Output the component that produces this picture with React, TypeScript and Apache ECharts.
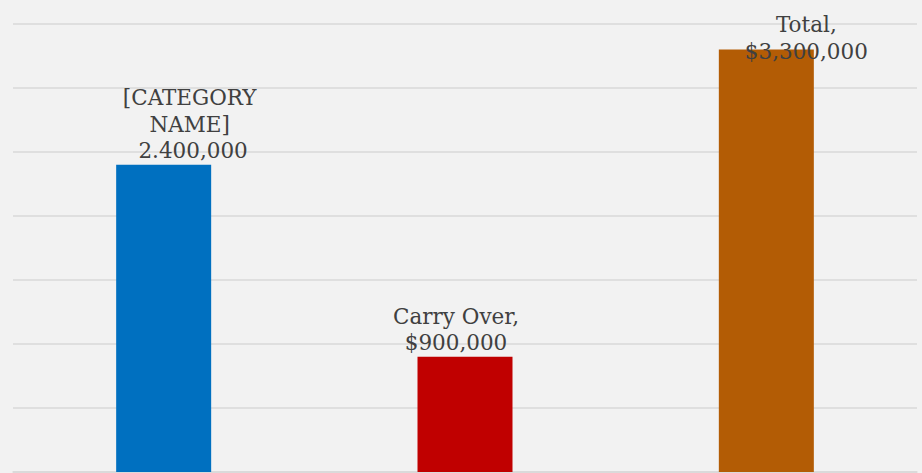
import React, { useEffect, useRef } from "react";
import * as echarts from "echarts";

const categories = ["[CATEGORY NAME]", "Carry Over", "Total"];
const values = [2400000, 900000, 3300000];
const labelTexts = ["[CATEGORY\nNAME]\n 2.400,000", "Carry Over,\n$900,000", "Total,\n$3,300,000"];
const barColors = ["#0070C0", "#C00000", "#B35C05"];
const labelOffsets = [[26, 0], [-9, 0], [40, 16]];

export default function App() {
  const ref = useRef<HTMLDivElement>(null);
  useEffect(() => {
    document.body.style.margin = "0";
    const chart = echarts.init(ref.current!, null, { renderer: "svg" });
    chart.setOption({
      animation: false,
      backgroundColor: "#F2F2F2",
      grid: { left: 13, right: 5, top: 24, bottom: 1, containLabel: false },
      xAxis: {
        type: "category",
        data: categories,
        axisLine: { lineStyle: { color: "#D9D9D9", width: 1.5 } },
        axisTick: { show: false },
        axisLabel: { show: false },
      },
      yAxis: {
        type: "value",
        min: 0,
        max: 3500000,
        interval: 500000,
        axisLabel: { show: false },
        axisLine: { show: false },
        axisTick: { show: false },
        splitLine: { lineStyle: { color: "#D9D9D9", width: 1.5 } },
      },
      series: [
        {
          type: "bar",
          barWidth: 95,
          data: values.map((v, i) => ({
            value: v,
            itemStyle: { color: barColors[i] },
            label: {
              show: true,
              position: "top",
              distance: 1,
              offset: labelOffsets[i],
              formatter: labelTexts[i],
              fontFamily: "DejaVu Serif",
              fontSize: 21.5,
              lineHeight: 26.5,
              color: "#404040",
              align: "center",
            },
          })),
        },
      ],
    });
    return () => chart.dispose();
  }, []);
  return <div ref={ref} style={{ width: 922, height: 473 }} />;
}
